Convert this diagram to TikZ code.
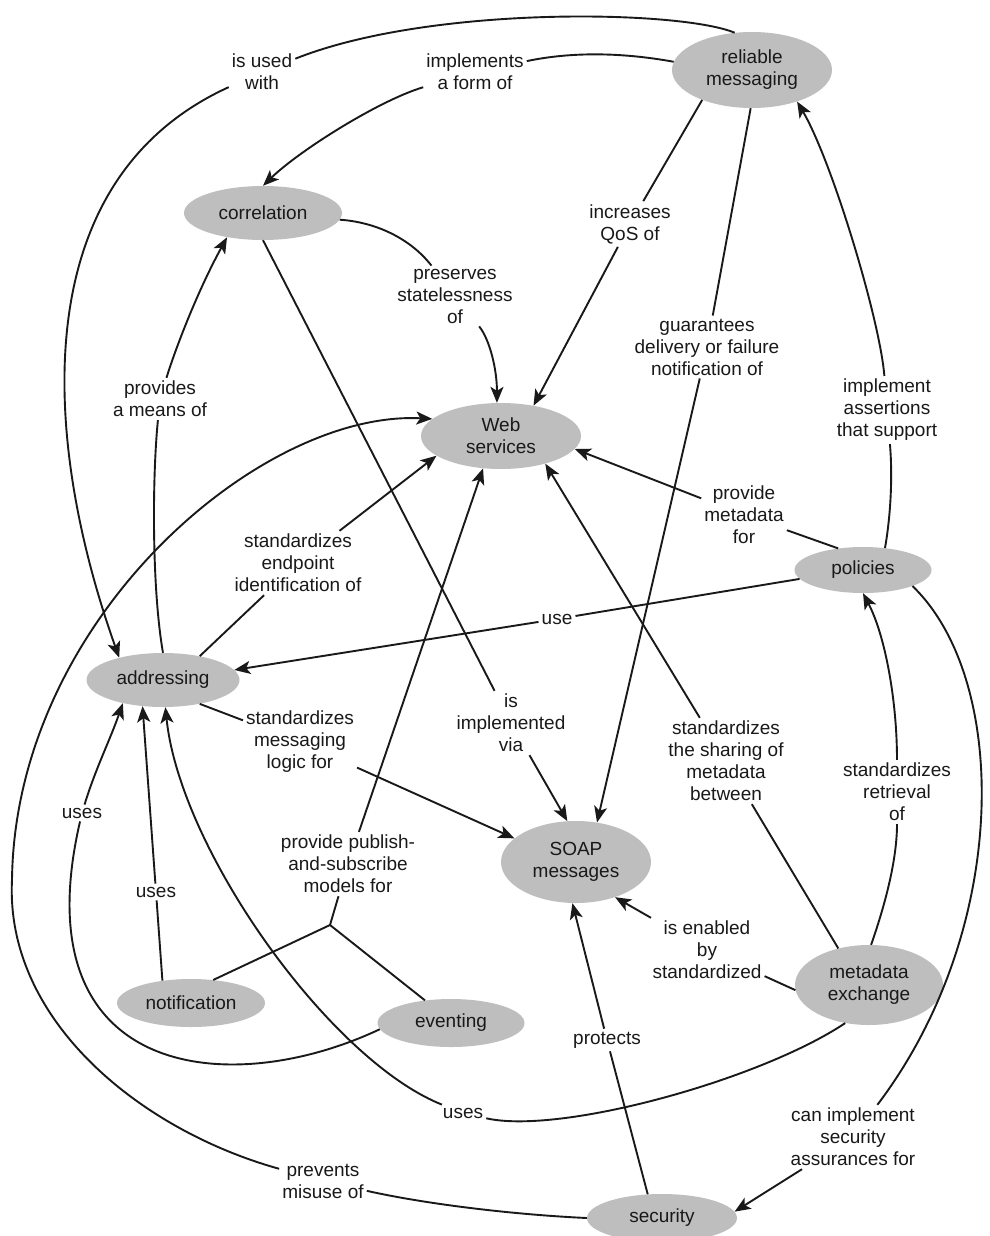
\documentclass[tikz,border=0pt]{standalone}
\usepackage{fontspec}
\setmainfont{Liberation Sans}
\usetikzlibrary{shapes.geometric,arrows.meta}
\definecolor{ink}{RGB}{25,25,25}
\definecolor{conceptfill}{RGB}{190,190,190}
\begin{document}
\begin{tikzpicture}[x=1pt,y=-1pt,
  concept/.style={ellipse,fill=conceptfill,inner sep=0pt,text=ink,align=center,
    font=\fontsize{19}{22}\selectfont},
  rel/.style={inner sep=3pt,text=ink,align=center,font=\fontsize{19}{22}\selectfont},
  link/.style={draw=ink,line width=1.9pt},
  arr/.style={link,-{Stealth[length=16pt,width=13pt,inset=4pt]}}
]
\fill[white] (0,0) rectangle (989,1236);
\useasboundingbox (0,0) rectangle (989,1236);

% concepts
\node[concept,minimum width=160pt,minimum height=76pt] (rm) at (752,70) {reliable\\messaging};
\node[concept,minimum width=158pt,minimum height=54pt] (corr) at (263,213) {correlation};
\node[concept,minimum width=160pt,minimum height=66pt] (ws) at (501,436) {Web\\services};
\node[concept,minimum width=137pt,minimum height=46pt] (pol) at (863,570) {policies};
\node[concept,minimum width=153pt,minimum height=54pt] (addr) at (163,680) {addressing};
\node[concept,minimum width=150pt,minimum height=82pt] (soap) at (576,862) {SOAP\\messages};
\node[concept,minimum width=148pt,minimum height=48pt] (notif) at (191,1003) {notification};
\node[concept,minimum width=147pt,minimum height=48pt] (event) at (451,1023) {eventing};
\node[concept,minimum width=148pt,minimum height=80pt] (mex) at (869,985) {metadata\\exchange};
\node[concept,minimum width=150pt,minimum height=48pt] (sec) at (662,1218) {security};

% relation labels
\node[rel] (Lused) at (262,72) {is used\\with};
\node[rel] (Limpl) at (475,72) {implements\\a form of};
\node[rel] (Lqos) at (630,224) {increases\\QoS of};
\node[rel] (Lpres) at (455,296) {preserves\\statelessness\\of};
\node[rel] (Lguar) at (707,347) {guarantees\\delivery or failure\\notification of};
\node[rel] (Lmeans) at (160,399) {provides\\a means of};
\node[rel] (Lassert) at (887,410) {implement\\assertions\\that support};
\node[rel] (Lendp) at (298,563) {standardizes\\endpoint\\identification of};
\node[rel] (Lpmeta) at (744,515) {provide\\metadata\\for};
\node[rel] (Luse) at (557,619) {use};
\node[rel] (Lmlogic) at (300,742) {standardizes\\messaging\\logic for};
\node[rel] (Lvia) at (511,723) {is\\implemented\\via};
\node[rel] (Lshare) at (726,761) {standardizes\\the sharing of\\metadata\\between};
\node[rel] (Lretr) at (897,792) {standardizes\\retrieval\\of};
\node[rel] (LusesA) at (82,813) {uses};
\node[rel] (LusesB) at (156,892) {uses};
\node[rel] (Lpub) at (348,864) {provide publish-\\and-subscribe\\models for};
\node[rel] (Lenab) at (707,950) {is enabled\\by\\standardized};
\node[rel] (Lprot) at (607,1040) {protects};
\node[rel] (LusesC) at (463,1113) {uses};
\node[rel] (Lcan) at (853,1137) {can implement\\security\\assurances for};
\node[rel] (Lprev) at (323,1181) {prevents\\misuse of};

% reliable messaging is used with addressing
\draw[link] (rm.115) .. controls (680,10) and (430,5) .. (Lused);
\draw[arr] (Lused) .. controls (25,180) and (41,438) .. (addr.153);

% reliable messaging implements a form of correlation
\draw[link] (rm.174) .. controls (620,52) and (570,52) .. (Limpl);
\draw[arr] (Limpl) .. controls (380,100) and (300,150) .. (corr.north);

% reliable messaging increases QoS of Web services
\draw[link] (rm.211) -- (Lqos);
\draw[arr] (Lqos) -- (ws.43);

% correlation preserves statelessness of Web services
\draw[link] (corr.355) .. controls (375,222) and (410,238) .. (Lpres);
\draw[arr] (Lpres) .. controls (490,340) and (497,370) .. (ws.97);

% reliable messaging guarantees delivery of SOAP messages
\draw[link] (rm.268) -- (Lguar);
\draw[arr] (Lguar) -- (soap.62);

% addressing provides a means of correlation
\draw[link] (addr.north) .. controls (152,590) and (152,480) .. (Lmeans);
\draw[arr] (Lmeans) .. controls (175,350) and (197,292) .. (corr.214);

% correlation is implemented via SOAP messages
\draw[link] (corr.south) -- (Lvia);
\draw[arr] (Lvia) -- (soap.102);

% addressing standardizes endpoint identification of Web services
\draw[link] (addr.33) -- (Lendp);
\draw[arr] (Lendp) -- (ws.197);

% notification uses addressing
\draw[link] (notif.142) -- (LusesB);
\draw[arr] (LusesB) -- (addr.232);

% eventing uses addressing
\draw[link] (event.185) .. controls (230,1100) and (20,1080) .. (LusesA);
\draw[arr] (LusesA) .. controls (95,770) and (110,740) .. (addr.210);

% notification and eventing provide publish-and-subscribe models
\coordinate (fork) at (330,925);
\draw[link] (notif.46) -- (fork);
\draw[link] (event.139) -- (fork) -- (Lpub);
\draw[arr] (Lpub) -- (ws.241);

% policies provide metadata for Web services
\draw[link] (pol.139) -- (Lpmeta);
\draw[arr] (Lpmeta) -- (ws.350);

% policies implement assertions that support reliable messaging
\draw[link] (pol.45) .. controls (890,520) and (893,480) .. (Lassert);
\draw[arr] (Lassert) .. controls (880,320) and (832,161) .. (rm.325);

% policies use addressing
\draw[link] (pol.188) -- (Luse);
\draw[arr] (Luse) -- (addr.8);

% addressing standardizes messaging logic for SOAP messages
\draw[link] (addr.327) -- (Lmlogic);
\draw[arr] (Lmlogic) -- (soap.159);

% metadata exchange standardizes sharing of metadata
\draw[link] (mex.130) -- (Lshare);
\draw[arr] (Lshare) -- (ws.328);

% metadata exchange standardizes retrieval of policies
\draw[link] (mex.87) .. controls (885,905) and (897,860) .. (Lretr);
\draw[arr] (Lretr) .. controls (897,700) and (885,635) .. (pol.south);

% SOAP messages enabled by metadata exchange
\draw[link] (mex.184) -- (Lenab);
\draw[arr] (Lenab) -- (soap.318);

% security protects SOAP messages
\draw[link] (sec.121) -- (Lprot);
\draw[arr] (Lprot) -- (soap.265);

% metadata exchange uses addressing
\draw[link] (mex.238) .. controls (760,1080) and (560,1135) .. (LusesC);
\draw[arr] (LusesC) .. controls (330,1060) and (180,850) .. (addr.275);

% policies can implement security assurances for security
\draw[link] (pol.342) .. controls (1010,680) and (1010,930) .. (Lcan);
\draw[arr] (Lcan) -- (sec.5);

% security prevents misuse of Web services
\coordinate (swing) at (12,880);
\draw[link] (sec.180) .. controls (520,1215) and (430,1205) .. (Lprev);
\draw[arr] (Lprev) .. controls (140,1130) and (5,1020) .. (swing)
  .. controls (15,620) and (260,410) .. (ws.166);
\end{tikzpicture}
\end{document}
